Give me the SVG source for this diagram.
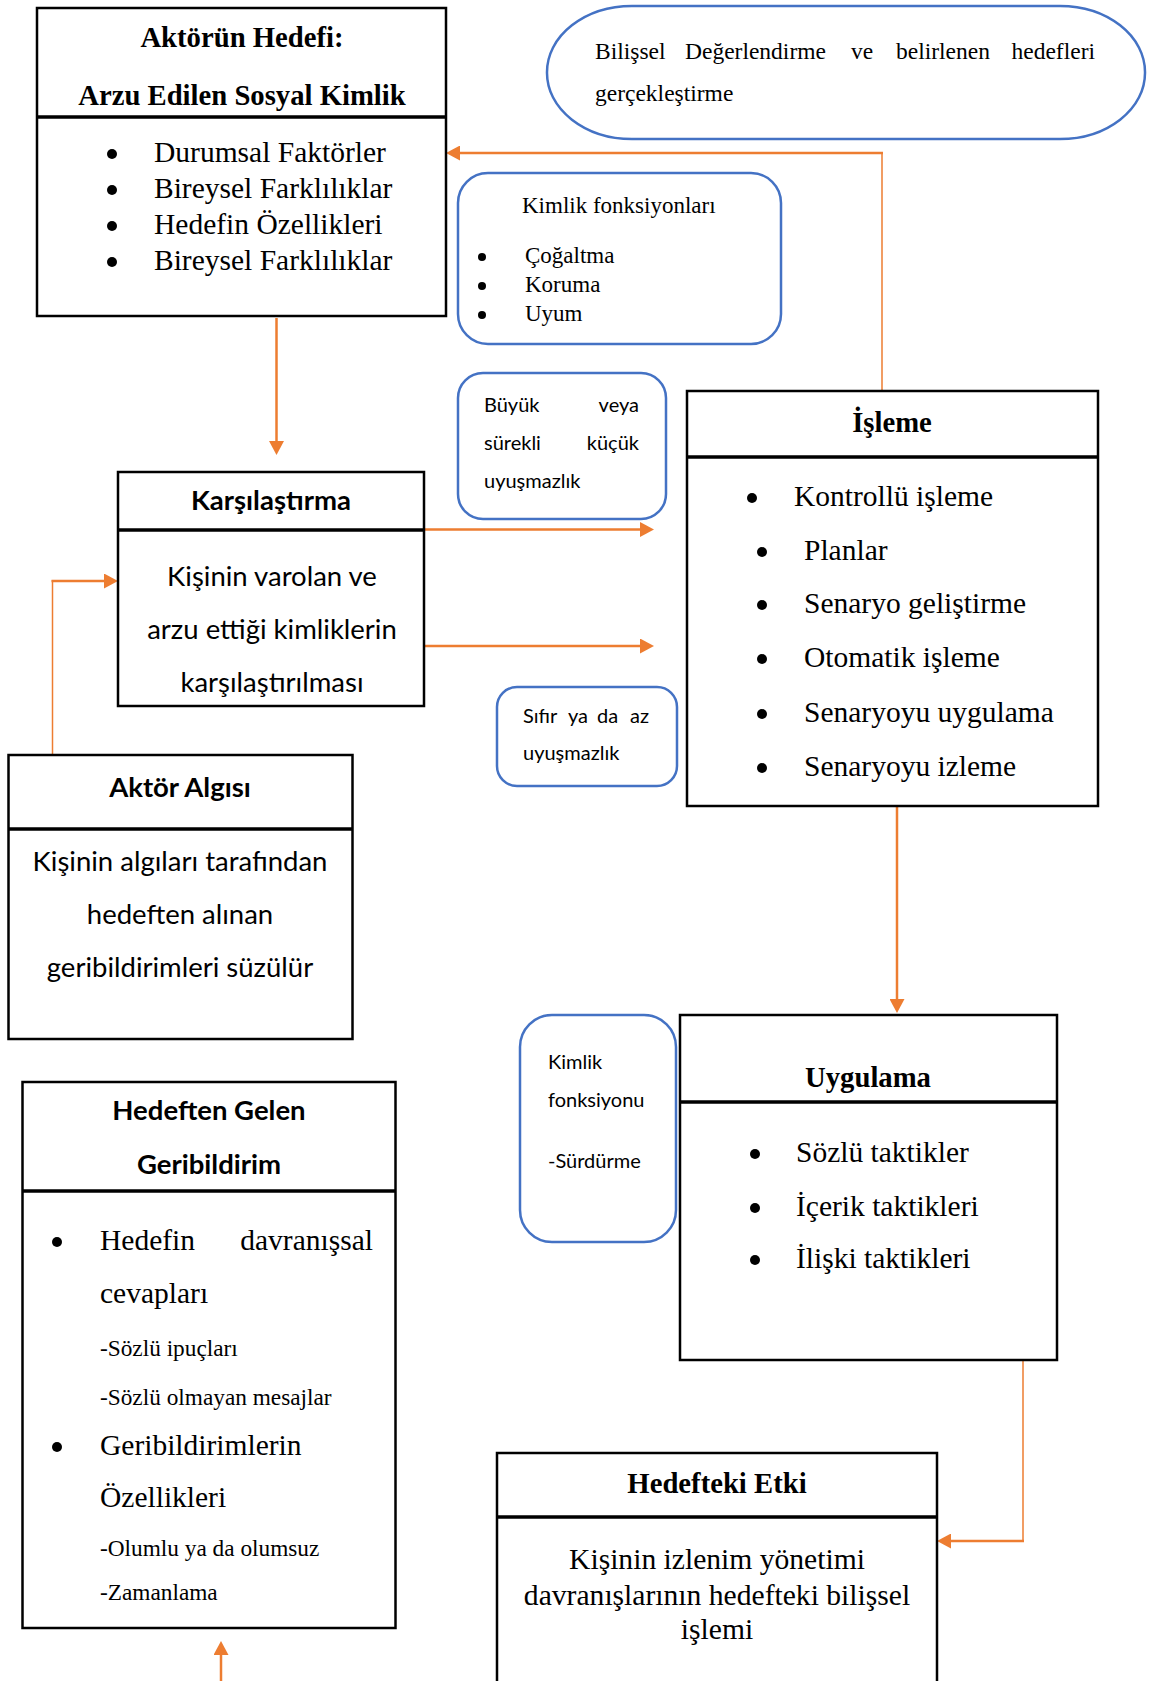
<svg xmlns="http://www.w3.org/2000/svg" width="1150" height="1681" viewBox="0 0 1150 1681">
  <defs>
    <marker id="arrow" viewBox="0 0 14 15" refX="10" refY="7.5" markerWidth="14" markerHeight="15" markerUnits="userSpaceOnUse" orient="auto">
      <path d="M0,0 L14,7.5 L0,15 Z" fill="#ED7D31"/>
    </marker>
    <style>
      .box{fill:#fff;stroke:#000;stroke-width:2.5}
      .div{stroke:#000;stroke-width:3.5}
      .note{fill:#fff;stroke:#4472C4;stroke-width:2.5}
      .ser{font-family:"Liberation Serif","DejaVu Serif",serif;fill:#000}
      .serb{font-family:"Liberation Serif","DejaVu Serif",serif;font-weight:bold;fill:#000}
      .sans{font-family:Lato,"Liberation Sans",sans-serif;fill:#000}
      .sansb{font-family:Lato,"Liberation Sans",sans-serif;font-weight:bold;fill:#000}
      .c{text-anchor:middle}
      .e{text-anchor:end}
      .dot{fill:#000}
      .link{fill:none;stroke:#ED7D31;stroke-width:2.5}
      .thin{fill:none;stroke:#ED7D31;stroke-width:1.5}
    </style>
  </defs>
  <rect width="1150" height="1681" fill="#fff"/>

  <!-- connectors -->
  <g id="connectors">
    <path class="thin" d="M882,391 V152"/>
    <path class="link" d="M883,153 H450" marker-end="url(#arrow)"/>
    <path class="link" d="M276.5,318 V451" marker-end="url(#arrow)"/>
    <path class="link" d="M424,529.5 H650" marker-end="url(#arrow)"/>
    <path class="link" d="M424,646 H650" marker-end="url(#arrow)"/>
    <path class="thin" d="M52.5,755 V580"/>
    <path class="link" d="M51.5,581 H114" marker-end="url(#arrow)"/>
    <path class="link" d="M897,807 V1009" marker-end="url(#arrow)"/>
    <path class="thin" d="M1023,1361 V1542"/>
    <path class="link" d="M1024,1541 H941" marker-end="url(#arrow)"/>
    <path class="link" d="M221,1681 V1645" marker-end="url(#arrow)"/>
  </g>

  <!-- actor goal -->
  <g id="actor-goal">
    <rect class="box" x="37" y="8" width="409" height="308"/>
    <line class="div" x1="37" y1="117" x2="446" y2="117"/>
    <text class="serb c" x="242" y="47" font-size="28.7">Aktörün Hedefi:</text>
    <text class="serb c" x="242" y="105" font-size="28.7">Arzu Edilen Sosyal Kimlik</text>
    <g class="dot">
      <circle cx="112" cy="154" r="5"/>
      <circle cx="112" cy="190" r="5"/>
      <circle cx="112" cy="226" r="5"/>
      <circle cx="112" cy="262" r="5"/>
    </g>
    <g class="ser" font-size="29.5">
      <text x="154" y="162">Durumsal Faktörler</text>
      <text x="154" y="198">Bireysel Farklılıklar</text>
      <text x="154" y="234">Hedefin Özellikleri</text>
      <text x="154" y="270">Bireysel Farklılıklar</text>
    </g>
  </g>

  <!-- cognitive evaluation -->
  <g id="cognitive-evaluation">
    <rect class="note" x="547" y="6" width="598" height="133" rx="85" ry="66"/>
    <g class="ser" font-size="23.5">
      <text x="595" y="59">Bilişsel</text>
      <text x="685" y="59">Değerlendirme</text>
      <text x="851" y="59">ve</text>
      <text x="896" y="59">belirlenen</text>
      <text class="e" x="1095" y="59">hedefleri</text>
      <text x="595" y="101">gerçekleştirme</text>
    </g>
  </g>

  <!-- identity functions -->
  <g id="identity-functions">
    <rect class="note" x="458" y="173" width="323" height="171" rx="30"/>
    <g class="dot">
      <circle cx="482" cy="257" r="4"/>
      <circle cx="482" cy="286" r="4"/>
      <circle cx="482" cy="315" r="4"/>
    </g>
    <g class="ser" font-size="23">
      <text x="522" y="213">Kimlik fonksiyonları</text>
      <text x="525" y="263">Çoğaltma</text>
      <text x="525" y="292">Koruma</text>
      <text x="525" y="321">Uyum</text>
    </g>
  </g>

  <!-- large mismatch -->
  <g id="large-mismatch">
    <rect class="note" x="458" y="373" width="208" height="146" rx="25"/>
    <g class="sans" font-size="20">
      <text x="484" y="412">Büyük</text><text class="e" x="639" y="412">veya</text>
      <text x="484" y="450">sürekli</text><text class="e" x="639" y="450">küçük</text>
      <text x="484" y="488">uyuşmazlık</text>
    </g>
  </g>

  <!-- comparison -->
  <g id="comparison">
    <rect class="box" x="118" y="472" width="306" height="234"/>
    <line class="div" x1="118" y1="530" x2="424" y2="530"/>
    <text class="sansb c" x="271" y="510" font-size="27.5">Karşılaştırma</text>
    <g class="sans c" font-size="27.5">
      <text x="272" y="586">Kişinin varolan ve</text>
      <text x="272" y="639">arzu ettiği kimliklerin</text>
      <text x="272" y="692">karşılaştırılması</text>
    </g>
  </g>

  <!-- small mismatch -->
  <g id="small-mismatch">
    <rect class="note" x="497" y="687" width="180" height="99" rx="20"/>
    <g class="sans" font-size="20">
      <text x="523" y="723">Sıfır</text>
      <text x="568" y="723">ya</text>
      <text x="597" y="723">da</text>
      <text class="e" x="649" y="723">az</text>
      <text x="523" y="760">uyuşmazlık</text>
    </g>
  </g>

  <!-- processing -->
  <g id="processing">
    <rect class="box" x="687" y="391" width="411" height="415"/>
    <line class="div" x1="687" y1="457" x2="1098" y2="457"/>
    <text class="serb c" x="892" y="432" font-size="28.7">İşleme</text>
    <g class="dot">
      <circle cx="752" cy="498" r="5"/>
      <circle cx="762" cy="552" r="5"/>
      <circle cx="762" cy="605" r="5"/>
      <circle cx="762" cy="659" r="5"/>
      <circle cx="762" cy="714" r="5"/>
      <circle cx="762" cy="768" r="5"/>
    </g>
    <g class="ser" font-size="29.5">
      <text x="794" y="506">Kontrollü işleme</text>
      <text x="804" y="560">Planlar</text>
      <text x="804" y="613">Senaryo geliştirme</text>
      <text x="804" y="667">Otomatik işleme</text>
      <text x="804" y="722">Senaryoyu uygulama</text>
      <text x="804" y="776">Senaryoyu izleme</text>
    </g>
  </g>

  <!-- actor perception -->
  <g id="actor-perception">
    <rect class="box" x="8.5" y="755" width="344" height="284"/>
    <line class="div" x1="8.5" y1="829" x2="352.5" y2="829"/>
    <text class="sansb c" x="180" y="797" font-size="27.5">Aktör Algısı</text>
    <g class="sans c" font-size="27.5">
      <text x="180" y="871">Kişinin algıları tarafından</text>
      <text x="180" y="924">hedeften alınan</text>
      <text x="180" y="977">geribildirimleri süzülür</text>
    </g>
  </g>

  <!-- identity function: maintenance -->
  <g id="identity-maintenance">
    <rect class="note" x="520" y="1015" width="156" height="227" rx="32"/>
    <g class="sans" font-size="20">
      <text x="548" y="1069">Kimlik</text>
      <text x="548" y="1107">fonksiyonu</text>
      <text x="548" y="1168">-Sürdürme</text>
    </g>
  </g>

  <!-- application -->
  <g id="application">
    <rect class="box" x="680" y="1015" width="377" height="345"/>
    <line class="div" x1="680" y1="1102" x2="1057" y2="1102"/>
    <text class="serb c" x="868" y="1087" font-size="28.7">Uygulama</text>
    <g class="dot">
      <circle cx="755" cy="1154" r="5"/>
      <circle cx="755" cy="1208" r="5"/>
      <circle cx="755" cy="1260" r="5"/>
    </g>
    <g class="ser" font-size="29.5">
      <text x="796" y="1162">Sözlü taktikler</text>
      <text x="796" y="1216">İçerik taktikleri</text>
      <text x="796" y="1268">İlişki taktikleri</text>
    </g>
  </g>

  <!-- feedback from target -->
  <g id="target-feedback">
    <rect class="box" x="22.5" y="1082" width="373" height="546"/>
    <line class="div" x1="22.5" y1="1191" x2="395.5" y2="1191"/>
    <text class="sansb c" x="209" y="1120" font-size="27.5">Hedeften Gelen</text>
    <text class="sansb c" x="209" y="1174" font-size="27.5">Geribildirim</text>
    <g class="dot">
      <circle cx="57" cy="1242" r="5"/>
      <circle cx="57" cy="1447" r="5"/>
    </g>
    <g class="ser">
      <text x="100" y="1250" font-size="29.5">Hedefin</text>
      <text class="e" x="373" y="1250" font-size="29.5">davranışsal</text>
      <text x="100" y="1303" font-size="29.5">cevapları</text>
      <text x="100" y="1356" font-size="23.3">-Sözlü ipuçları</text>
      <text x="100" y="1405" font-size="23.3">-Sözlü olmayan mesajlar</text>
      <text x="100" y="1455" font-size="29.5">Geribildirimlerin</text>
      <text x="100" y="1507" font-size="29.5">Özellikleri</text>
      <text x="100" y="1556" font-size="23.3">-Olumlu ya da olumsuz</text>
      <text x="100" y="1600" font-size="23.3">-Zamanlama</text>
    </g>
  </g>

  <!-- effect on target -->
  <g id="target-effect">
    <rect class="box" x="497" y="1453" width="440" height="260"/>
    <line class="div" x1="497" y1="1517" x2="937" y2="1517"/>
    <text class="serb c" x="717" y="1493" font-size="28.7">Hedefteki Etki</text>
    <g class="ser c" font-size="29.6">
      <text x="717" y="1569">Kişinin izlenim yönetimi</text>
      <text x="717" y="1605">davranışlarının hedefteki bilişsel</text>
      <text x="717" y="1639">işlemi</text>
    </g>
  </g>
</svg>
